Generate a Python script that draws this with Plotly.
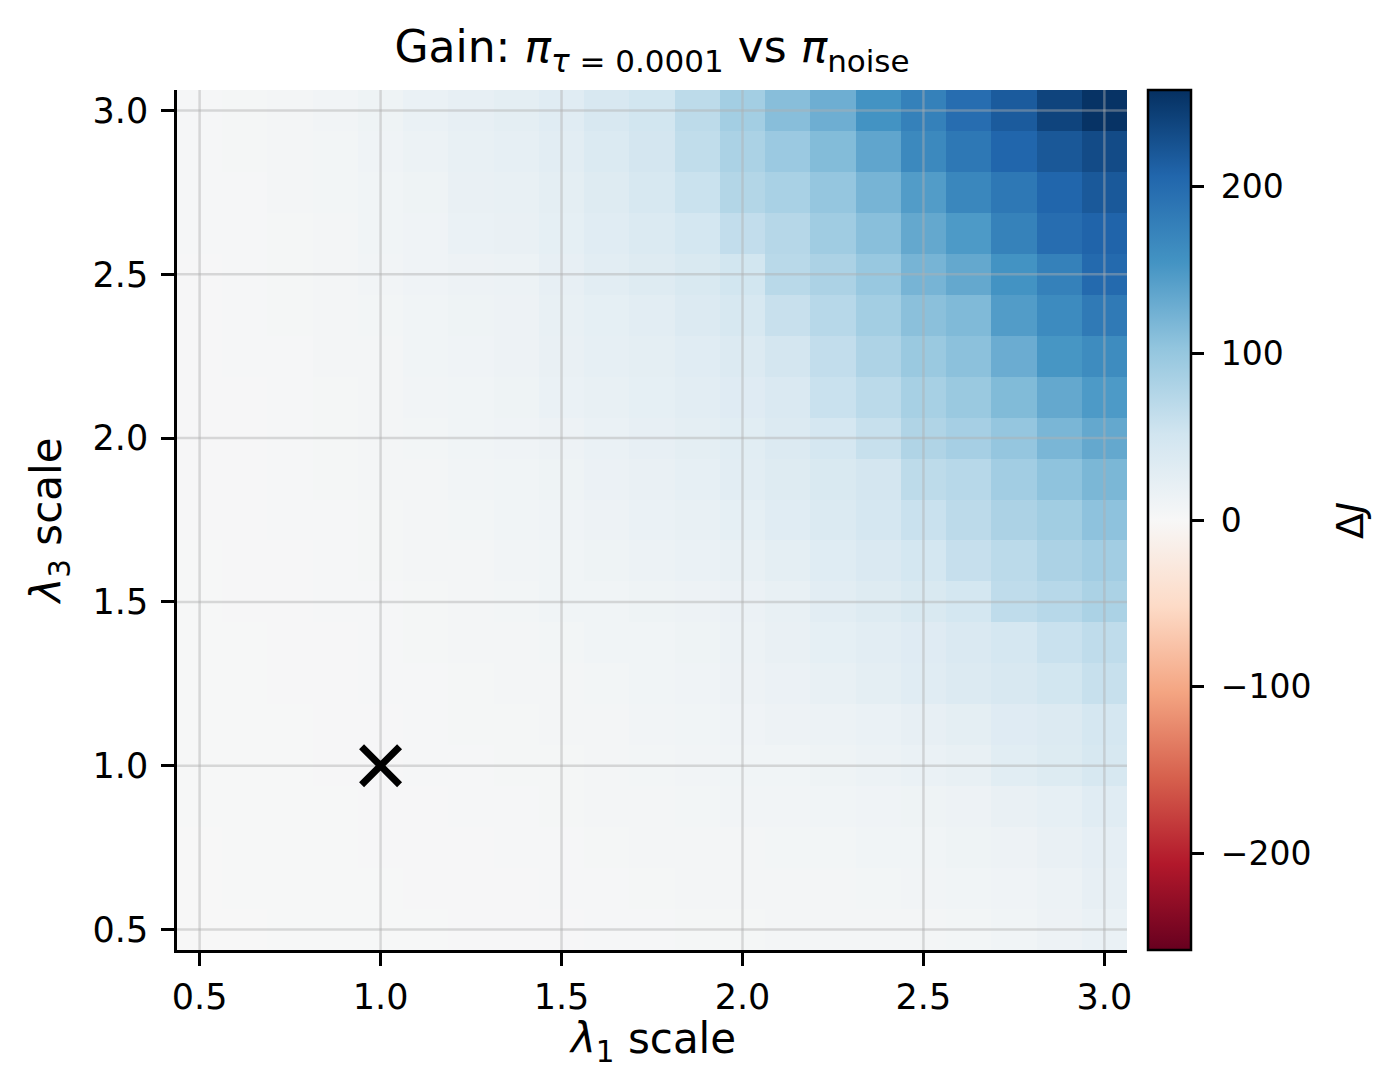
import plotly.graph_objects as go

# grid axes (cell centres)
lam1 = [0.5 + 0.125 * i for i in range(21)]
lam3 = [0.5 + 0.125 * j for j in range(21)]

# ΔJ values, rows = λ3 (from 0.5 up to 3.0), columns = λ1 (0.5 .. 3.0)
dJ = [
    [0, 0, 1, 1, 1, 1, 2, 2, 2, 3, 3, 4, 4, 5, 5, 6, 6, 7, 9, 13, 17],
    [0, 1, 1, 1, 1, 2, 2, 2, 3, 3, 4, 5, 5, 6, 6, 7, 8, 9, 11, 15, 22],
    [0, 1, 1, 1, 2, 2, 2, 3, 3, 4, 5, 6, 6, 7, 7, 9, 10, 12, 14, 19, 25],
    [1, 1, 1, 1, 2, 2, 3, 3, 4, 5, 6, 7, 8, 8, 10, 11, 12, 14, 19, 23, 31],
    [1, 1, 1, 2, 2, 3, 3, 4, 4, 5, 7, 8, 9, 10, 12, 15, 18, 21, 30, 35, 43],
    [1, 1, 1, 2, 2, 3, 4, 4, 5, 6, 8, 9, 11, 13, 15, 18, 22, 26, 33, 37, 46],
    [1, 1, 2, 2, 3, 3, 4, 5, 6, 7, 9, 11, 14, 16, 21, 26, 31, 36, 42, 50, 60],
    [1, 1, 2, 2, 3, 4, 5, 6, 7, 9, 10, 12, 15, 19, 24, 28, 33, 39, 46, 58, 66],
    [1, 2, 2, 3, 3, 4, 5, 7, 9, 10, 12, 14, 16, 21, 28, 34, 41, 47, 66, 73, 83],
    [1, 2, 2, 3, 4, 5, 6, 8, 10, 12, 15, 18, 21, 26, 32, 40, 47, 61, 70, 82, 90],
    [2, 2, 3, 3, 4, 6, 7, 9, 11, 14, 17, 21, 24, 31, 38, 46, 58, 69, 82, 91, 106],
    [2, 2, 3, 4, 5, 6, 8, 10, 12, 16, 19, 23, 28, 34, 41, 48, 68, 73, 90, 105, 118],
    [2, 2, 3, 4, 5, 7, 9, 11, 14, 18, 22, 26, 30, 37, 46, 60, 79, 87, 101, 119, 133],
    [2, 2, 3, 4, 6, 8, 10, 12, 17, 20, 24, 29, 33, 40, 58, 70, 86, 97, 114, 133, 148],
    [2, 3, 3, 5, 6, 9, 11, 13, 19, 23, 26, 31, 37, 48, 64, 80, 97, 107, 129, 152, 163],
    [2, 3, 4, 5, 7, 9, 12, 14, 20, 24, 29, 36, 44, 59, 73, 89, 108, 115, 145, 164, 183],
    [2, 3, 4, 6, 8, 11, 13, 15, 22, 29, 34, 41, 50, 71, 82, 98, 121, 133, 155, 176, 202],
    [3, 3, 4, 6, 9, 11, 17, 19, 24, 31, 38, 47, 64, 74, 92, 109, 133, 148, 174, 198, 208],
    [3, 3, 5, 7, 10, 12, 19, 21, 26, 34, 43, 57, 76, 84, 101, 121, 145, 168, 186, 206, 219],
    [3, 4, 5, 7, 11, 15, 20, 23, 29, 38, 48, 65, 83, 96, 113, 136, 166, 186, 206, 220, 232],
    [3, 4, 5, 8, 12, 17, 22, 26, 31, 42, 50, 68, 89, 110, 127, 155, 176, 198, 217, 239, 255],
]

baseline_l1 = [1.0]
baseline_l3 = [1.0]

axis_ticks = [0.5, 1.0, 1.5, 2.0, 2.5, 3.0]
cbar_ticks = [-200, -100, 0, 100, 200]
cbar_text = ["\u2212200", "\u2212100", "0", "100", "200"]
vlim = 258

# matplotlib RdBu
rdbu = ["#67001f", "#b2182b", "#d6604d", "#f4a582", "#fddbc7", "#f7f7f7",
        "#d1e5f0", "#92c5de", "#4393c3", "#2166ac", "#053061"]
colorscale = [[k / 10, c] for k, c in enumerate(rdbu)]

FONT = "DejaVu Sans"
half = (lam1[1] - lam1[0]) / 2
xlo, xhi = lam1[0] - half, lam1[-1] + half
ylo, yhi = lam3[0] - half, lam3[-1] + half

fig = go.Figure()
fig.add_trace(go.Heatmap(
    x=lam1, y=lam3, z=dJ, zmin=-vlim, zmax=vlim, colorscale=colorscale,
    colorbar=dict(
        x=1.022, xanchor="left", xpad=0, ypad=0, y=0.5, yanchor="middle",
        len=1.0, lenmode="fraction", thickness=43,
        outlinewidth=2.5, outlinecolor="black",
        tickvals=cbar_ticks, ticktext=["\u00a0" + t for t in cbar_text],
        ticks="outside", ticklen=12, tickwidth=2.5, tickcolor="black",
        tickfont=dict(family=FONT, size=33, color="black"),
    ),
    hoverinfo="skip",
))

# grid lines on top of the image
gx, gy = [], []
for v in axis_ticks:
    gx += [v, v, None]
    gy += [ylo, yhi, None]
    gx += [xlo, xhi, None]
    gy += [v, v, None]
fig.add_trace(go.Scatter(x=gx, y=gy, mode="lines",
                         line=dict(color="rgba(176,176,176,0.45)", width=2.5),
                         hoverinfo="skip", showlegend=False))

fig.add_trace(go.Scatter(x=baseline_l1, y=baseline_l3, mode="markers",
                         marker=dict(symbol="x-thin", size=38,
                                     line=dict(color="black", width=7)),
                         showlegend=False, hoverinfo="skip"))

axis_common = dict(
    tickvals=axis_ticks, ticktext=[f"{v:.1f}" for v in axis_ticks],
    ticks="outside", ticklen=13, tickwidth=2.5, tickcolor="black",
    showline=True, linecolor="black", linewidth=2.5,
    showgrid=False, zeroline=False, automargin=False,
    tickfont=dict(family=FONT, size=35, color="black"),
)

sub = '<span style="font-size:31px">{}</span>'
title_text = ("Gain: <i>\u03c0</i><sub>" + sub.format("<i>\u03c4</i> = 0.0001")
              + "</sub> vs <i>\u03c0</i><sub>" + sub.format("noise") + "</sub>")

fig.update_layout(
    width=1397, height=1070,
    margin=dict(l=177, r=270, t=90, b=120),
    paper_bgcolor="white", plot_bgcolor="white",
    font=dict(family=FONT, color="black"),
    title=dict(
        text=title_text,
        x=0.5, xref="paper", xanchor="center",
        y=1 - 47 / 1070, yref="container", yanchor="middle",
        font=dict(family=FONT, size=44, color="black"),
    ),
    xaxis=dict(range=[xlo, xhi], ticklabelstandoff=1, **axis_common),
    yaxis=dict(range=[ylo, yhi], ticklabelstandoff=6,
               title=dict(text="<i>\u03bb</i><sub>3</sub> scale", standoff=18,
                          font=dict(family=FONT, size=42, color="black")),
               **axis_common),
    annotations=[
        dict(text="\u0394<i>J</i>", textangle=-90, showarrow=False,
             x=1.2347, xref="paper", xanchor="center",
             y=0.5, yref="paper", yanchor="middle",
             font=dict(family=FONT, size=38, color="black")),
        dict(text="<i>\u03bb</i><sub>1</sub> scale", showarrow=False,
             x=0.5, xref="paper", xanchor="center",
             y=-0.106, yref="paper", yanchor="middle",
             font=dict(family=FONT, size=42, color="black")),
    ],
)

fig.write_html("out.html")
